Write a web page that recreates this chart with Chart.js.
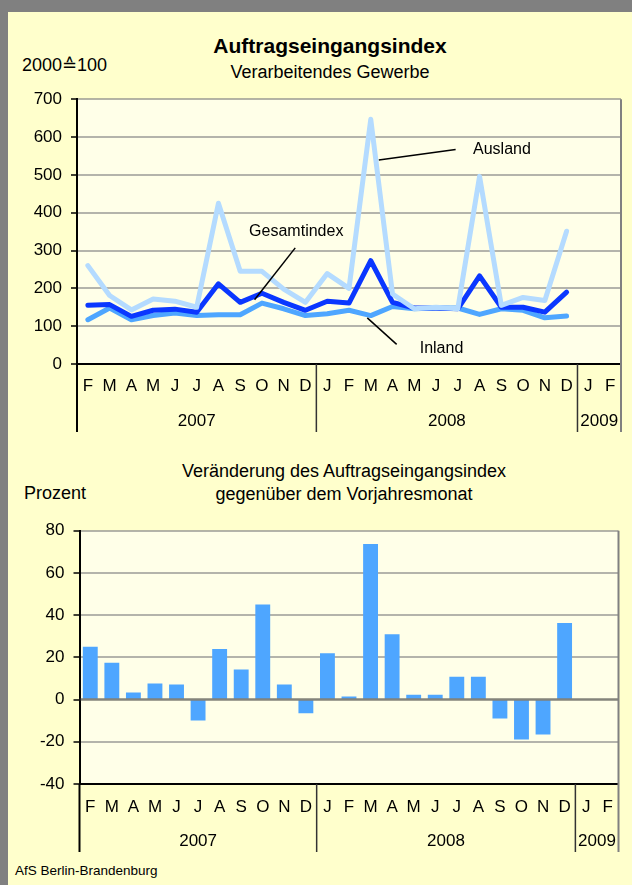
<!DOCTYPE html>
<html lang="de">
<head>
<meta charset="utf-8">
<title>Auftragseingangsindex</title>
<script src="https://cdn.jsdelivr.net/npm/chart.js@4.4.1/dist/chart.umd.min.js"></script>
<style>
  body { margin: 0; width: 632px; height: 885px; background: #808080; overflow: hidden; position: relative;
         font-family: "Liberation Sans", Arial, sans-serif; }
  #sheet { position: absolute; left: 8px; top: 12px; width: 624px; height: 873px; background: #ffffcc; }
  .txt { position: absolute; color: #000; white-space: nowrap; line-height: 1; }
  .mid { transform: translateX(-50%); }
  canvas { position: absolute; left: 0; }
</style>
</head>
<body>
<div id="sheet"></div>

<div class="txt mid" style="left:330px; top:35px; font-size:21px; font-weight:bold;">Auftragseingangsindex</div>
<div class="txt mid" style="left:330px; top:63px; font-size:18px;">Verarbeitendes Gewerbe</div>
<div class="txt" style="left:22px; top:56px; font-size:18px;">2000≙100</div>

<div class="txt mid" style="left:344px; top:462px; font-size:18px;">Veränderung des Auftragseingangsindex</div>
<div class="txt mid" style="left:344px; top:485px; font-size:18px;">gegenüber dem Vorjahresmonat</div>
<div class="txt" style="left:24px; top:484px; font-size:18px;">Prozent</div>

<div class="txt" style="left:15px; top:864px; font-size:13.5px;">AfS Berlin-Brandenburg</div>

<canvas id="indexChart" width="632" height="360" style="top:80px"></canvas>
<canvas id="changeChart" width="632" height="350" style="top:510px"></canvas>

<script>
// months Feb 2007 .. Feb 2009
const months = ['F', 'M', 'A', 'M', 'J', 'J', 'A', 'S', 'O', 'N', 'D',
                'J', 'F', 'M', 'A', 'M', 'J', 'J', 'A', 'S', 'O', 'N', 'D',
                'J', 'F'];
const years = ['2007', '2008', '2009'];
const yearStart = [0, 11, 23];   // first month index of each year
const yearEnd = [10, 22, 24];    // last month index of each year

// index 2000 = 100
const ausland = [260, 181, 143, 172, 166, 150, 425, 245, 245, 198, 163,
                 239, 200, 647, 185, 146, 150, 146, 496, 155, 176, 168, 351,
                 null, null];
const gesamtindex = [155, 157, 126, 142, 145, 137, 212, 163, 187, 163, 142,
                     166, 161, 273, 163, 148, 148, 146, 233, 150, 150, 137, 190,
                     null, null];
const inland = [117, 148, 117, 128, 135, 128, 130, 130, 161, 146, 128,
                133, 142, 128, 152, 146, 148, 148, 131, 146, 142, 122, 127,
                null, null];

// change vs. same month of previous year, percent
const veraenderung = [25, 17.5, 3.3, 7.6, 7.1, -9.9, 24, 14.2, 45, 7.1, -6.5,
                      22, 1.4, 73.7, 31, 2.3, 2.3, 10.8, 10.8, -9, -18.9, -16.5, 36.3,
                      null, null];

const fontFamily = '"Liberation Sans", Arial, sans-serif';
Chart.defaults.font.family = fontFamily;
Chart.defaults.color = '#000';

const plotFill = '#ffffe8';
const gridColor = 'rgba(130,130,130,0.6)';

// labels with leader lines, placed in data units
const notes = [
    { text: 'Ausland', at: [17.7, 567], from: [13.37, 539], to: [16.9, 567] },
    { text: 'Gesamtindex', at: [7.41, 349], from: [9.53, 307], to: [7.66, 170] },
    { text: 'Inland', at: [15.25, 42], from: [12.84, 122], to: [14.19, 52] }
];

function framePlugin(opts) {
    return {
        id: 'frame',
        beforeDraw(chart) {
            const a = chart.chartArea;
            const ctx = chart.ctx;
            ctx.save();
            ctx.fillStyle = plotFill;
            ctx.fillRect(a.left, a.top, a.right - a.left, a.bottom - a.top);
            ctx.restore();
        },
        afterDatasetsDraw(chart) {
            if (!opts.zeroLine) return;
            const a = chart.chartArea;
            const ctx = chart.ctx;
            const y0 = chart.scales.y.getPixelForValue(0);
            ctx.save();
            ctx.strokeStyle = 'rgba(50,50,50,0.6)';
            ctx.lineWidth = 2.5;
            ctx.beginPath();
            ctx.moveTo(a.left, y0);
            ctx.lineTo(a.right, y0);
            ctx.stroke();
            ctx.restore();
        },
        afterDraw(chart) {
            const a = chart.chartArea;
            const ctx = chart.ctx;
            const x = chart.scales.x;
            const y = chart.scales.y;
            const depth = 68;
            ctx.save();

            // right border of plot, going down through the axis area
            ctx.strokeStyle = '#808080';
            ctx.lineWidth = 2;
            ctx.beginPath();
            ctx.moveTo(a.right, a.top);
            ctx.lineTo(a.right, a.bottom + depth);
            ctx.stroke();

            // left edge under the axis
            ctx.strokeStyle = '#000';
            ctx.lineWidth = 2;
            ctx.beginPath();
            ctx.moveTo(a.left, a.bottom);
            ctx.lineTo(a.left, a.bottom + depth);
            ctx.stroke();

            // year separators and year labels
            ctx.strokeStyle = '#333';
            ctx.lineWidth = 1.5;
            ctx.font = '17px ' + fontFamily;
            ctx.fillStyle = '#000';
            ctx.textAlign = 'center';
            ctx.textBaseline = 'middle';
            years.forEach((yr, i) => {
                if (i > 0) {
                    const sx = x.getPixelForValue(yearStart[i] - 0.5);
                    ctx.beginPath();
                    ctx.moveTo(sx, a.bottom);
                    ctx.lineTo(sx, a.bottom + depth);
                    ctx.stroke();
                }
                const cx = x.getPixelForValue((yearStart[i] + yearEnd[i]) / 2);
                ctx.fillText(yr, cx, a.bottom + 57);
            });

            // annotations
            (opts.notes || []).forEach(n => {
                ctx.strokeStyle = '#000';
                ctx.lineWidth = 1.5;
                ctx.beginPath();
                ctx.moveTo(x.getPixelForValue(n.from[0]), y.getPixelForValue(n.from[1]));
                ctx.lineTo(x.getPixelForValue(n.to[0]), y.getPixelForValue(n.to[1]));
                ctx.stroke();
                ctx.font = '16px ' + fontFamily;
                ctx.textAlign = 'left';
                ctx.fillText(n.text, x.getPixelForValue(n.at[0]), y.getPixelForValue(n.at[1]));
            });
            ctx.restore();
        }
    };
}

function xAxis(pad) {
    return {
        type: 'category',
        offset: true,
        grid: { display: false, drawTicks: false },
        border: { display: true, color: '#000', width: 2 },
        ticks: { autoSkip: false, maxRotation: 0, padding: pad, font: { size: 17 }, color: '#000' },
        afterFit(scale) { scale.height = 76; }
    };
}

function yAxis(min, max, step, width, zeroHidden) {
    return {
        min: min,
        max: max,
        border: { display: true, color: '#000', width: 2 },
        grid: {
            color: ctx => (zeroHidden && ctx.tick && ctx.tick.value === 0) ? 'rgba(0,0,0,0)' : gridColor,
            lineWidth: 2,
            borderDash: [1.5, 1.5],
            drawTicks: true,
            tickLength: 6,
            tickColor: '#000',
            tickWidth: 1.5,
            tickBorderDash: []
        },
        ticks: { stepSize: step, padding: 9, font: { size: 17 }, color: '#000' },
        afterFit(scale) { scale.width = width; }
    };
}

new Chart(document.getElementById('indexChart'), {
    type: 'line',
    data: {
        labels: months,
        datasets: [
            { label: 'Ausland', data: ausland, borderColor: '#b4dbff', borderWidth: 5, order: 0 },
            { label: 'Gesamtindex', data: gesamtindex, borderColor: '#0a37ff', borderWidth: 5, order: 1 },
            { label: 'Inland', data: inland, borderColor: '#4ea6ff', borderWidth: 5, order: 2 }
        ]
    },
    options: {
        responsive: false,
        animation: false,
        devicePixelRatio: 1,
        layout: { padding: { top: 17, right: 11, left: 0, bottom: 0 } },
        elements: {
            point: { radius: 0 },
            line: { tension: 0, borderJoinStyle: 'round', borderCapStyle: 'round' }
        },
        plugins: { legend: { display: false }, tooltip: { enabled: false } },
        scales: {
            x: xAxis(12),
            y: yAxis(0, 700, 100, 77, true)
        }
    },
    plugins: [framePlugin({ notes: notes })]
});

new Chart(document.getElementById('changeChart'), {
    type: 'bar',
    data: {
        labels: months,
        datasets: [
            { label: 'Veränderung', data: veraenderung, backgroundColor: '#4ea6ff',
              barPercentage: 0.69, categoryPercentage: 1 }
        ]
    },
    options: {
        responsive: false,
        animation: false,
        devicePixelRatio: 1,
        layout: { padding: { top: 20.7, right: 13.5, left: 0, bottom: 0 } },
        plugins: { legend: { display: false }, tooltip: { enabled: false } },
        scales: {
            x: xAxis(13.5),
            y: yAxis(-40, 80, 20, 79.5, true)
        }
    },
    plugins: [framePlugin({ zeroLine: true })]
});
</script>
</body>
</html>
